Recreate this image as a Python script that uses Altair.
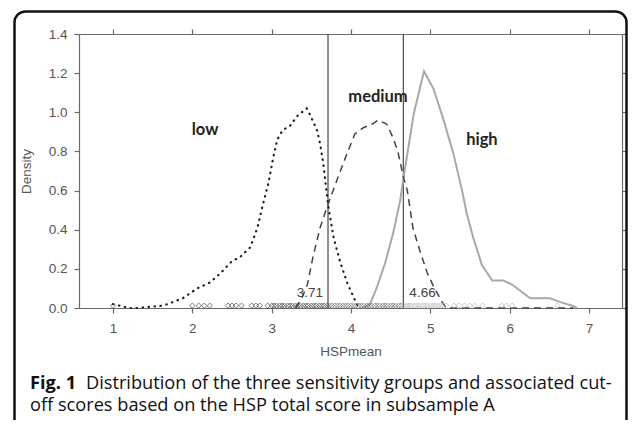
import altair as alt
import pandas as pd

# ---- data ----
low_x = [1.0, 1.1, 1.2, 1.3, 1.59, 1.69, 1.88, 2.06, 2.22, 2.36, 2.5, 2.6, 2.73, 2.82, 2.89, 2.96,
         3.02, 3.07, 3.14, 3.23, 3.32, 3.44, 3.48, 3.57, 3.61, 3.65, 3.71, 3.78, 3.86, 3.95, 4.05, 4.1]
low_y = [0.02, 0.01, 0.0, 0.0, 0.01, 0.02, 0.05, 0.10, 0.13, 0.18, 0.24, 0.26, 0.31, 0.41, 0.53, 0.64,
         0.77, 0.86, 0.91, 0.93, 0.98, 1.02, 0.99, 0.91, 0.84, 0.74, 0.53, 0.36, 0.24, 0.13, 0.04, 0.0]

med_x = [3.3, 3.38, 3.45, 3.52, 3.61, 3.71, 3.82, 3.95, 4.05, 4.15, 4.27, 4.34, 4.45, 4.53, 4.59,
         4.66, 4.71, 4.78, 4.87, 4.96, 5.04, 5.15, 5.2, 5.5, 6.0, 6.5, 6.8]
med_y = [0.0, 0.05, 0.12, 0.26, 0.41, 0.53, 0.65, 0.79, 0.89, 0.92, 0.94, 0.96, 0.94, 0.87, 0.80,
         0.67, 0.60, 0.41, 0.29, 0.18, 0.11, 0.03, 0.0, 0.0, 0.0, 0.0, 0.0]

high_x = [4.15, 4.24, 4.33, 4.43, 4.53, 4.62, 4.66, 4.79, 4.92, 5.04, 5.16, 5.29, 5.40, 5.46, 5.54,
          5.65, 5.78, 5.92, 6.03, 6.26, 6.51, 6.64, 6.80, 6.85]
high_y = [0.0, 0.02, 0.11, 0.23, 0.38, 0.55, 0.66, 0.99, 1.21, 1.12, 0.97, 0.79, 0.60, 0.48, 0.36,
          0.22, 0.14, 0.14, 0.12, 0.05, 0.05, 0.03, 0.01, 0.0]

low_rug = [1.0, 2.0, 2.08, 2.15, 2.22, 2.45, 2.5, 2.55, 2.62, 2.75, 2.8, 2.85, 2.95, 3.0, 3.03, 3.06,
           3.1, 3.13, 3.16, 3.2, 3.23, 3.26, 3.3, 3.33, 3.36, 3.4, 3.43, 3.46, 3.5, 3.53, 3.56, 3.6,
           3.63, 3.66, 3.7]
med_rug = [3.73, 3.76, 3.8, 3.83, 3.86, 3.9, 3.93, 3.96, 4.0, 4.03, 4.06, 4.1, 4.13, 4.16, 4.2, 4.23,
           4.26, 4.3, 4.33, 4.36, 4.4, 4.43, 4.46, 4.5, 4.53, 4.56, 4.6, 4.63]
high_rug = [4.67, 4.7, 4.73, 4.76, 4.8, 4.83, 4.86, 4.9, 4.93, 4.96, 5.0, 5.03, 5.06, 5.1, 5.13, 5.16,
            5.2, 5.3, 5.36, 5.43, 5.5, 5.56, 5.66, 5.9, 5.96, 6.03, 6.6]
rug_y = 0.012

cutoffs = [3.71, 4.66]
cut_labels = ["3.71", "4.66"]
cut_label_y = 0.075

group_names = ["low", "medium", "high"]
group_label_x = [2.16, 4.34, 5.65]
group_label_y = [0.91, 1.08, 0.86]

x_ticks = [1, 2, 3, 4, 5, 6, 7]
y_ticks = [0.0, 0.2, 0.4, 0.6, 0.8, 1.0, 1.2, 1.4]

caption_bold = "Fig. 1"
caption_line1 = "Distribution of the three sensitivity groups and associated cut-"
caption_line2 = "off scores based on the HSP total score in subsample A"

# ---- chart ----
W, H = 543, 274
xs = alt.Scale(domain=[0.571, 7.416], nice=False, zero=False)
ys = alt.Scale(domain=[0, 1.4], nice=False, zero=False)

low_df = pd.DataFrame({"x": low_x, "y": low_y})
med_df = pd.DataFrame({"x": med_x, "y": med_y})
high_df = pd.DataFrame({"x": high_x, "y": high_y})

AX_COL = "#6a6a6a"
LAB_COL = "#555555"

x_bottom = alt.Axis(values=x_ticks, format="d", title="HSPmean", tickSize=5, labelPadding=8,
                    titlePadding=10, labelFontSize=13.5, titleFontSize=13.5)
y_left = alt.Axis(values=y_ticks, format=".1f", title="Density", tickSize=5, labelPadding=7,
                  titlePadding=15, labelFontSize=13.5, titleFontSize=13.5)

low_line = alt.Chart(low_df).mark_line(
    color="#222222", strokeWidth=2.2, strokeDash=[0.5, 5.5], strokeCap="round"
).encode(x=alt.X("x:Q", scale=xs, axis=x_bottom), y=alt.Y("y:Q", scale=ys, axis=y_left))

mirror = alt.Chart(low_df).mark_point(opacity=0).encode(
    x=alt.X("x:Q", scale=xs, axis=alt.Axis(orient="top", values=x_ticks, labels=False, title=None, tickSize=5)),
    y=alt.Y("y:Q", scale=ys, axis=alt.Axis(orient="right", values=y_ticks, labels=False, title=None, tickSize=5)),
)

med_line = alt.Chart(med_df).mark_line(
    color="#444444", strokeWidth=1.5, strokeDash=[7, 5]
).encode(x=alt.X("x:Q", scale=xs, axis=None), y=alt.Y("y:Q", scale=ys, axis=None))

high_line = alt.Chart(high_df).mark_line(
    color="#a8a8a8", strokeWidth=2
).encode(x=alt.X("x:Q", scale=xs, axis=None), y=alt.Y("y:Q", scale=ys, axis=None))

def rug(vals, color):
    df = pd.DataFrame({"x": vals, "y": [rug_y] * len(vals)})
    return alt.Chart(df).mark_point(shape="diamond", filled=False, size=28, strokeWidth=0.9,
                                    color=color).encode(
        x=alt.X("x:Q", scale=xs, axis=None), y=alt.Y("y:Q", scale=ys, axis=None))

cut_df = pd.DataFrame({"x": cutoffs, "t": cut_labels, "y": [cut_label_y] * 2})
cut_rules = alt.Chart(cut_df).mark_rule(color="#555555", strokeWidth=1.3).encode(
    x=alt.X("x:Q", scale=xs, axis=None))
cut_text_l = alt.Chart(cut_df.iloc[[0]]).mark_text(
    align="right", baseline="middle", dx=-5, font="Liberation Sans", fontSize=13.5, color="#444444"
).encode(x=alt.X("x:Q", scale=xs, axis=None), y=alt.Y("y:Q", scale=ys, axis=None), text="t:N")
cut_text_r = alt.Chart(cut_df.iloc[[1]]).mark_text(
    align="left", baseline="middle", dx=6, font="Liberation Sans", fontSize=13.5, color="#444444"
).encode(x=alt.X("x:Q", scale=xs, axis=None), y=alt.Y("y:Q", scale=ys, axis=None), text="t:N")

grp_df = pd.DataFrame({"x": group_label_x, "y": group_label_y, "t": group_names})
grp_text = alt.Chart(grp_df).mark_text(
    font="Lato", fontWeight="bold", fontSize=16.5, color="#222222", align="center", baseline="middle"
).encode(x=alt.X("x:Q", scale=xs, axis=None), y=alt.Y("y:Q", scale=ys, axis=None), text="t:N")

# figure frame and caption (decoration, pixel positions relative to plot origin)
frame = alt.Chart(pd.DataFrame({"a": [0]})).mark_rect(
    fill=None, stroke="#111111", strokeWidth=2.5, cornerRadius=11, clip=False
).encode(x=alt.value(-64.5), x2=alt.value(547.5), y=alt.value(-22.5), y2=alt.value(420))

cap_df = pd.DataFrame({"a": [0]})
CAP_FS = 18.2
cap_bold = alt.Chart(cap_df).mark_text(
    text=caption_bold, font="Open Sans", fontWeight="bold", fontSize=CAP_FS, align="left",
    baseline="alphabetic", color="#111111"
).encode(x=alt.value(-49), y=alt.value(355))
cap_1 = alt.Chart(cap_df).mark_text(
    text=caption_line1, font="Open Sans", fontSize=CAP_FS, align="left", baseline="alphabetic",
    color="#111111"
).encode(x=alt.value(7), y=alt.value(355))
cap_2 = alt.Chart(cap_df).mark_text(
    text=caption_line2, font="Open Sans", fontSize=CAP_FS, align="left", baseline="alphabetic",
    color="#111111"
).encode(x=alt.value(-49), y=alt.value(377))

chart = alt.layer(
    frame, cut_rules, high_line, med_line, low_line, mirror,
    rug(low_rug, "#333333"), rug(med_rug, "#666666"), rug(high_rug, "#aaaaaa"),
    cut_text_l, cut_text_r, grp_text, cap_bold, cap_1, cap_2
).resolve_axis(x="independent", y="independent").properties(
    width=W, height=H, autosize=alt.AutoSizeParams(type="none"),
    padding={"left": 71, "top": 26, "right": 6, "bottom": 112}
).configure_view(stroke=None).configure_axis(
    grid=False, domainColor=AX_COL, tickColor=AX_COL, labelColor=LAB_COL, titleColor=LAB_COL,
    labelFont="Liberation Sans", titleFont="Liberation Sans", titleFontWeight="normal",
    domainWidth=1.2, tickWidth=1.2
)

chart.save("out.html", embed_options={"renderer": "svg", "actions": False})
